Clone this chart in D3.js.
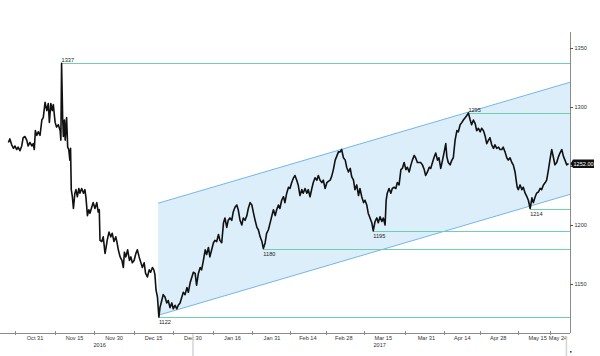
<!DOCTYPE html>
<html><head><meta charset="utf-8">
<script src="https://cdn.jsdelivr.net/npm/d3@7"></script>
<style>
html,body{margin:0;padding:0;background:#fff;}
svg{display:block;font-family:"Liberation Sans",Arial,sans-serif;}
</style></head>
<body>
<svg id="chart" width="600" height="356"></svg>
<script>
// ---------- DATA ----------
// gold price path: [trading-day index since 2016-10-17, price]
const goldPath = [
[2.6,1270],[3.0,1273],[3.5,1268],[4.0,1265],[4.4,1267],[4.9,1264],[5.3,1266],[5.8,1263],[6.3,1267],[6.7,1274],
[7.2,1275],[7.7,1272],[8.1,1267],[8.6,1270],[9.1,1267],[9.5,1269],[9.8,1264],[10.1,1280],[10.5,1276],[10.9,1279],
[11.4,1276],[11.9,1289],[12.3,1291],[12.8,1304],[13.3,1297],[13.7,1303],[14.0,1287],[14.4,1303],[14.8,1297],[15.1,1302],
[15.6,1287],[16.0,1283],[16.5,1285],[17.0,1280],[17.2,1272],[17.4,1337],[17.7,1291],[17.9,1275],[18.2,1289],[18.4,1272],
[18.8,1291],[19.1,1266],[19.4,1264],[19.7,1255],[19.9,1265],[20.1,1230],[20.4,1224],[20.7,1214],[21.1,1227],[21.4,1230],
[21.8,1224],[22.2,1231],[22.5,1227],[23.0,1231],[23.5,1227],[23.9,1230],[24.2,1223],[24.6,1208],[25.0,1213],[25.3,1210],
[25.8,1215],[26.2,1219],[26.7,1214],[27.2,1219],[27.6,1211],[27.9,1213],[28.1,1187],[28.6,1186],[29.0,1190],[29.5,1176],
[29.8,1181],[30.1,1187],[30.6,1194],[31.1,1190],[31.5,1193],[32.0,1186],[32.5,1190],[32.8,1186],[33.2,1179],[33.7,1173],
[34.2,1170],[34.6,1164],[34.9,1177],[35.3,1173],[35.8,1179],[36.3,1170],[36.7,1173],[37.1,1168],[37.6,1170],[38.1,1176],
[38.5,1179],[39.0,1173],[39.4,1169],[39.9,1164],[40.4,1168],[40.8,1159],[41.3,1156],[41.8,1162],[42.2,1160],[42.7,1164],
[43.1,1162],[43.4,1158],[43.7,1145],[44.1,1139],[44.5,1122],[44.8,1130],[45.3,1136],[45.7,1141],[46.2,1139],[46.7,1134],
[47.1,1136],[47.6,1130],[48.1,1134],[48.5,1129],[49.0,1132],[49.5,1129],[49.9,1132],[50.4,1134],[50.9,1139],[51.3,1143],
[51.8,1141],[52.3,1147],[52.7,1143],[53.2,1151],[53.7,1156],[54.1,1160],[54.6,1159],[55.0,1149],[55.5,1159],[56.0,1164],
[56.4,1162],[56.9,1170],[57.4,1179],[57.8,1175],[58.3,1181],[58.7,1173],[59.2,1179],[59.7,1185],[60.1,1187],[60.6,1186],
[61.1,1192],[61.5,1187],[62.0,1185],[62.5,1202],[62.9,1206],[63.4,1198],[63.8,1204],[64.3,1206],[64.8,1204],[65.2,1211],
[65.7,1215],[66.2,1217],[66.6,1213],[67.1,1204],[67.6,1200],[68.0,1206],[68.5,1204],[69.0,1208],[69.4,1214],[69.9,1219],
[70.4,1217],[70.8,1211],[71.3,1204],[71.8,1198],[72.2,1196],[72.7,1190],[73.2,1186],[73.6,1180],[74.1,1185],[74.5,1193],
[75.0,1196],[75.5,1202],[75.9,1207],[76.4,1213],[76.9,1208],[77.3,1213],[77.8,1217],[78.2,1214],[78.7,1221],[79.2,1224],
[79.6,1219],[80.1,1227],[80.6,1232],[81.0,1231],[81.5,1236],[82.0,1240],[82.4,1242],[82.9,1238],[83.3,1234],[83.8,1225],
[84.3,1230],[84.7,1227],[85.2,1231],[85.7,1227],[86.1,1230],[86.6,1224],[87.1,1231],[87.5,1236],[88.0,1240],[88.5,1238],
[88.9,1242],[89.4,1238],[89.9,1236],[90.3,1238],[90.8,1231],[91.3,1236],[91.7,1237],[92.2,1238],[92.6,1241],[93.1,1247],
[93.6,1255],[94.0,1258],[94.5,1262],[95.0,1262],[95.4,1264],[95.9,1257],[96.4,1255],[96.8,1249],[97.3,1245],[97.8,1248],
[98.2,1241],[98.7,1238],[99.1,1230],[99.6,1234],[100.1,1225],[100.5,1231],[101.0,1224],[101.5,1219],[101.9,1221],[102.4,1217],
[102.8,1210],[103.3,1206],[103.8,1202],[104.2,1195],[104.7,1203],[105.2,1206],[105.6,1202],[106.1,1207],[106.6,1203],[107.0,1206],
[107.5,1200],[107.8,1221],[108.1,1227],[108.6,1231],[109.1,1227],[109.5,1231],[110.0,1232],[110.5,1231],[110.9,1236],[111.4,1234],
[111.9,1247],[112.3,1248],[112.8,1253],[113.3,1247],[113.7,1249],[114.2,1245],[114.7,1251],[115.1,1255],[115.6,1259],[116.0,1257],
[116.5,1253],[117.0,1253],[117.4,1253],[117.9,1251],[118.4,1247],[118.8,1242],[119.3,1245],[119.8,1249],[120.2,1248],[120.7,1253],
[121.1,1257],[121.6,1261],[122.1,1255],[122.5,1257],[123.0,1248],[123.5,1255],[123.9,1261],[124.4,1269],[124.7,1258],[125.1,1253],
[125.6,1251],[126.1,1255],[126.5,1257],[127.0,1272],[127.5,1280],[127.9,1279],[128.4,1285],[128.9,1287],[129.3,1289],[129.8,1291],
[130.3,1293],[130.7,1295],[131.2,1289],[131.6,1285],[132.1,1289],[132.6,1286],[133.0,1280],[133.5,1282],[134.0,1279],[134.4,1282],
[134.9,1280],[135.4,1275],[135.8,1269],[136.3,1272],[136.7,1274],[137.2,1268],[137.7,1265],[138.1,1268],[138.6,1265],[139.1,1266],
[139.5,1264],[140.0,1264],[140.4,1266],[140.9,1262],[141.4,1257],[141.8,1255],[142.3,1257],[142.8,1253],[143.2,1251],[143.7,1245],
[144.0,1238],[144.3,1232],[144.6,1230],[145.1,1234],[145.6,1230],[146.0,1232],[146.5,1227],[147.0,1224],[147.4,1221],[147.9,1214],
[148.4,1223],[148.8,1219],[149.3,1224],[149.7,1227],[150.2,1228],[150.7,1231],[151.1,1230],[151.6,1234],[152.1,1236],[152.5,1238],
[153.0,1247],[153.5,1257],[153.9,1264],[154.4,1257],[154.8,1251],[155.3,1253],[155.8,1258],[156.2,1261],[156.7,1264],[157.2,1258],
[157.6,1255],[158.1,1251],[158.6,1252]
];
const lastPrice = 1252.00;

// swing highs / lows
const levelIdx    = [17.4, 130.7, 104.2, 73.6, 44.5, 147.9];
const levelValues = [1337, 1295, 1195, 1180, 1122, 1214];
const levelKinds  = ["high","high","low","low","low","low"];

// trend channel (start index -> end index)
const channelIdx   = [44.3, 159];
const channelUpper = [1218.5, 1321];
const channelLower = [1123.5, 1226];

// axis
const xTickDates  = ["2016-10-31","2016-11-15","2016-11-30","2016-12-15","2016-12-30","2017-01-16","2017-01-31",
                     "2017-02-14","2017-02-28","2017-03-15","2017-03-31","2017-04-14","2017-04-28","2017-05-15","2017-05-24"];
const xTickLabels = ["Oct 31","Nov 15","Nov 30","Dec 15","Dec 30","Jan 16","Jan 31",
                     "Feb 14","Feb 28","Mar 15","Mar 31","Apr 14","Apr 28","May 15","May 24"];
const yearDates   = ["2016-11-24","2017-03-14"];
const yearLabels  = ["2016","2017"];
const yTicks      = [1150, 1200, 1250, 1300, 1350];

// ---------- SCALES ----------
const parse = d3.timeParse("%Y-%m-%d");
const tradingDays = d3.timeDay.range(new Date(2016,9,17), new Date(2017,5,2))
  .filter(d => d.getDay() > 0 && d.getDay() < 6);
const idxOf = s => { const t = +parse(s); return tradingDays.findIndex(d => +d === t); };

const x = d3.scaleLinear().domain([0.25, 159]).range([0, 570]);
const y = d3.scaleLinear().domain([1108.5, 1363.6]).range([333, 32]);
const crisp = v => Math.round(v) + 0.5;

const svg = d3.select("#chart");
const FS = 5.6;

// channel
const chan = [
  [channelIdx[0], channelUpper[0]], [channelIdx[1], channelUpper[1]],
  [channelIdx[1], channelLower[1]], [channelIdx[0], channelLower[0]]
];
svg.append("path")
  .attr("d", d3.line().x(d => x(d[0])).y(d => y(d[1]))(chan) + "Z")
  .attr("fill", "#ddeefb");
[channelUpper, channelLower].forEach(v => {
  svg.append("line")
    .attr("x1", x(channelIdx[0])).attr("y1", y(v[0]))
    .attr("x2", x(channelIdx[1])).attr("y2", y(v[1]))
    .attr("stroke", "#74b6e8").attr("stroke-width", 1);
});

// level lines
levelValues.forEach((v, i) => {
  svg.append("rect")
    .attr("x", x(levelIdx[i])).attr("width", x(159) - x(levelIdx[i]))
    .attr("y", Math.round(y(v))).attr("height", 1)
    .attr("fill", "#6fd0b0");
});

// price line
svg.append("path")
  .datum(goldPath)
  .attr("d", d3.line().x(d => x(d[0])).y(d => y(d[1])))
  .attr("fill", "none").attr("stroke", "#111")
  .attr("stroke-width", 1.6).attr("stroke-linejoin", "round");

// level labels
levelValues.forEach((v, i) => {
  svg.append("text")
    .attr("x", x(levelIdx[i]))
    .attr("y", levelKinds[i] === "high" ? y(v) - 1 : y(v) + 7)
    .attr("font-size", FS).attr("fill", "#222")
    .text(String(v));
});

// x axis
svg.append("line").attr("x1", 0).attr("x2", 570).attr("y1", 333.5).attr("y2", 333.5)
  .attr("stroke", "#8a8a8a").attr("stroke-width", 1);
const tickIdx = xTickDates.map(idxOf);
for (let i = 0; i < tickIdx.length; i++) {
  const m = i === 0 ? tickIdx[0] - (tickIdx[1] - tickIdx[0]) / 2 : (tickIdx[i - 1] + tickIdx[i]) / 2;
  svg.append("line").attr("x1", crisp(x(m))).attr("x2", crisp(x(m))).attr("y1", 331).attr("y2", 335)
    .attr("stroke", "#8a8a8a").attr("stroke-width", 1);
}
xTickLabels.forEach((lab, i) => {
  svg.append("text")
    .attr("x", Math.min(x(tickIdx[i]), 558)).attr("y", 340)
    .attr("text-anchor", "middle").attr("font-size", FS).attr("fill", "#333")
    .text(lab);
});
yearLabels.forEach((lab, i) => {
  svg.append("text")
    .attr("x", x(idxOf(yearDates[i]))).attr("y", 346.5)
    .attr("text-anchor", "middle").attr("font-size", FS).attr("fill", "#333")
    .text(lab);
});
// year divider
const yb = (idxOf("2016-12-30") + idxOf("2017-01-02")) / 2 - 0.5;
svg.append("line").attr("x1", x(yb)).attr("x2", x(yb)).attr("y1", 334).attr("y2", 356)
  .attr("stroke", "#d4d4d4").attr("stroke-width", 1.5);
svg.append("line").attr("x1", x(158)).attr("x2", x(158)).attr("y1", 336).attr("y2", 356)
  .attr("stroke", "#d4d4d4").attr("stroke-width", 1.5);
svg.append("rect").attr("x", 570).attr("y", 351).attr("width", 1.6).attr("height", 1.6).attr("fill", "#444");

// y axis (right)
svg.append("line").attr("x1", 570.5).attr("x2", 570.5).attr("y1", 32).attr("y2", 333)
  .attr("stroke", "#8a8a8a").attr("stroke-width", 1);
yTicks.forEach(v => {
  svg.append("line").attr("x1", 570).attr("x2", 573).attr("y1", crisp(y(v))).attr("y2", crisp(y(v)))
    .attr("stroke", "#555").attr("stroke-width", 1);
  // the tick label hidden behind the last-price tag is not drawn
  if (Math.abs(y(v) - y(lastPrice)) > 6) {
    svg.append("text").attr("x", 574.5).attr("y", y(v) + 2)
      .attr("font-size", FS).attr("fill", "#333").text(String(v));
  }
});

// last price tag
const ly = y(lastPrice);
svg.append("path")
  .attr("d", `M570.5,${ly} L573,${ly-4.2} L594,${ly-4.2} L594,${ly+4.2} L573,${ly+4.2} Z`)
  .attr("fill", "#111");
svg.append("text").attr("x", 573.5).attr("y", ly + 2)
  .attr("font-size", FS).attr("fill", "#fff").text(lastPrice.toFixed(2));
</script>
</body></html>
